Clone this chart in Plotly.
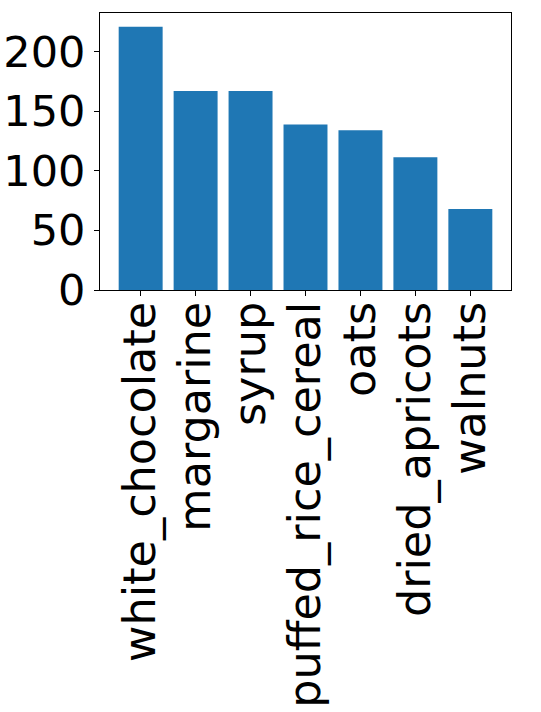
import plotly.graph_objects as go

ingredients = ["white_chocolate", "margarine", "syrup", "puffed_rice_cereal",
               "oats", "dried_apricots", "walnuts"]
amounts = [221, 167, 167, 139, 134, 111.5, 68]
y_ticks = [0, 50, 100, 150, 200]

fig = go.Figure()
fig.add_trace(go.Bar(x=list(range(len(ingredients))), y=amounts,
                     width=0.8, marker_color="#1f77b4",
                     marker_line_width=0))

axis_style = dict(showline=True, linecolor="black", linewidth=1, mirror=True,
                  ticks="outside", ticklen=5, tickcolor="black", tickwidth=1,
                  showgrid=False, zeroline=False)

fig.update_xaxes(tickvals=list(range(len(ingredients))), ticktext=ingredients,
                 tickangle=-90, range=[-0.74, 6.74], ticklabelstandoff=-12,
                 tickfont=dict(family="DejaVu Sans", size=44.5, color="black"),
                 **axis_style)
fig.update_yaxes(tickvals=y_ticks, range=[0, 232.5],
                 tickfont=dict(family="DejaVu Sans", size=43, color="black"),
                 **axis_style)

fig.update_layout(width=541, height=712, plot_bgcolor="white",
                  paper_bgcolor="white", showlegend=False,
                  margin=dict(l=100, r=30, t=13, b=422, autoexpand=False))

# drop the default 8px body margin so the figure fills the window
fig.write_html("out.html", config={"displayModeBar": False},
               post_script="document.body.style.margin='0';"
                           "document.body.style.overflow='hidden';")
